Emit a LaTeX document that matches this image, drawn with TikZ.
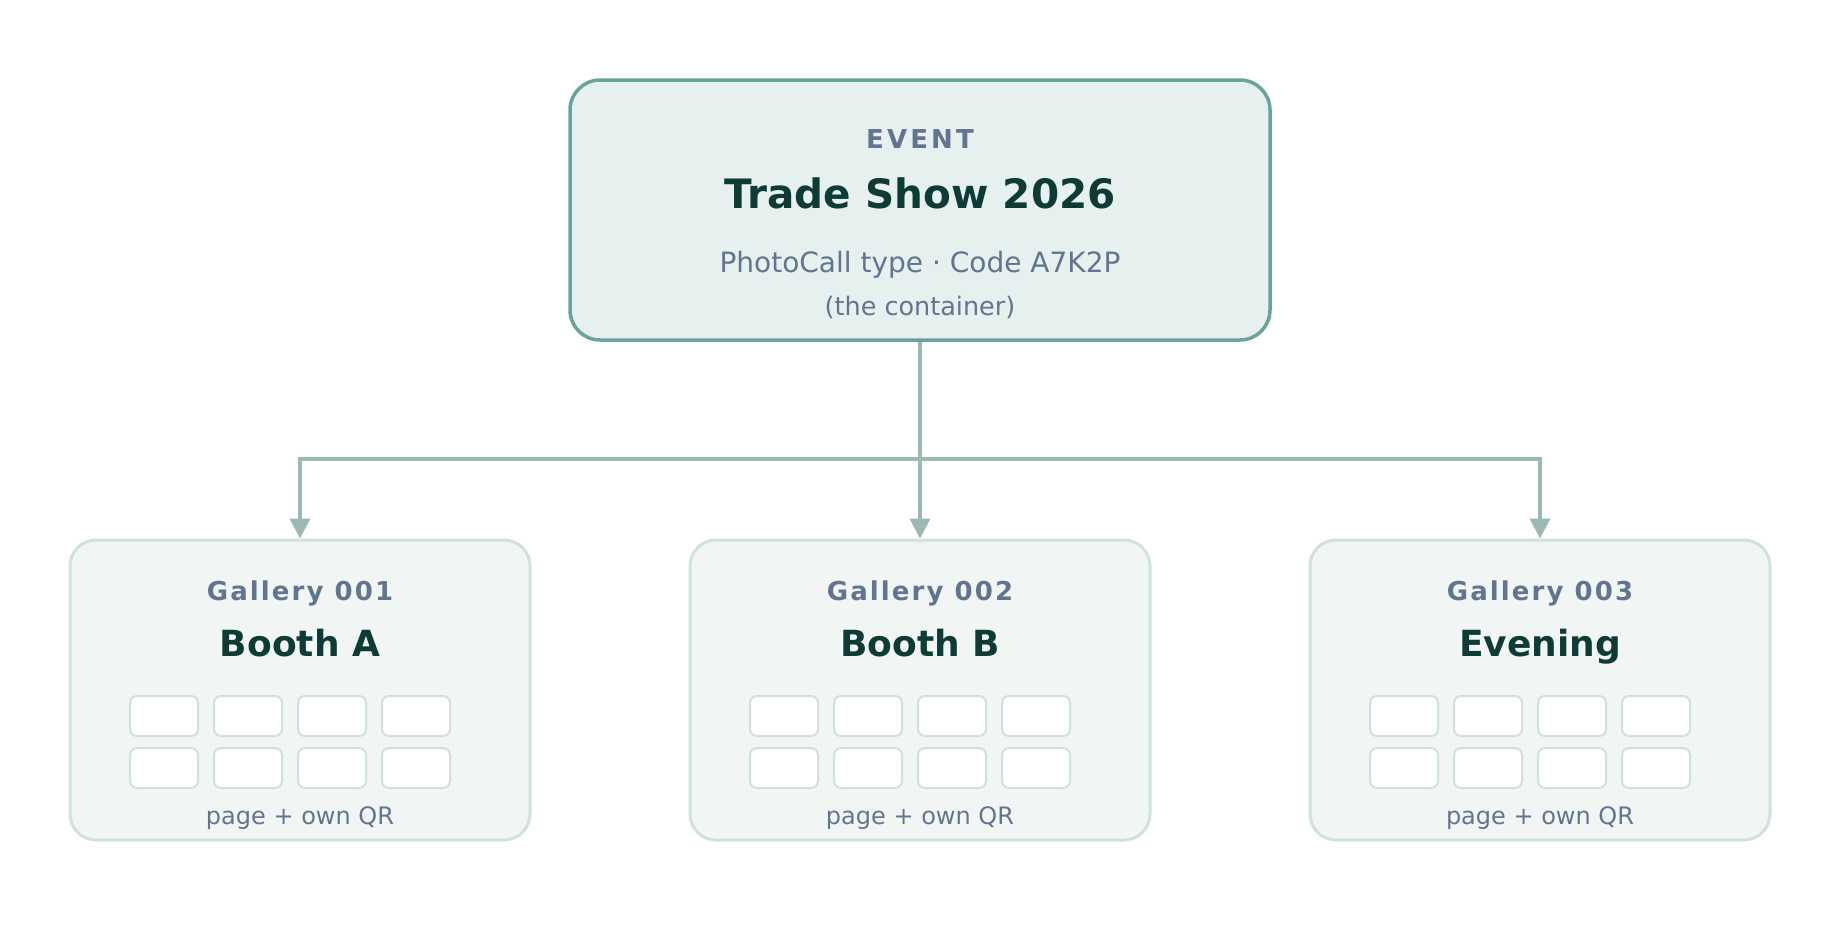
\documentclass[tikz,border=0pt]{standalone}
\usepackage{fontspec}
\setmainfont{DejaVu Sans}
\usetikzlibrary{arrows.meta}

\definecolor{topfill}{HTML}{E6F0EE}
\definecolor{topline}{HTML}{6AA39E}
\definecolor{galfill}{HTML}{F1F6F4}
\definecolor{galline}{HTML}{CFE2DC}
\definecolor{linkcol}{HTML}{9BB8B2}
\definecolor{titlecol}{HTML}{0E3B36}
\definecolor{mutedcol}{HTML}{627590}

\begin{document}
\begin{tikzpicture}[x=1pt, y=-1pt,
    eventbox/.style={draw=topline, fill=topfill, line width=3.5pt, rounded corners=30pt,
                     minimum width=700pt, minimum height=260pt, inner sep=0pt},
    galbox/.style={draw=galline, fill=galfill, line width=3pt, rounded corners=26pt,
                   minimum width=460pt, minimum height=300pt, inner sep=0pt},
    tile/.style={draw=galline, fill=white, line width=2pt, rounded corners=7pt},
    link/.style={draw=linkcol, line width=4pt},
    tip/.style={-{Triangle[length=20pt,width=20pt]}},
    kicker/.style={anchor=base, text=mutedcol, font=\bfseries\fontsize{26}{30}\selectfont\addfontfeature{LetterSpace=12}},
    galkicker/.style={anchor=base, text=mutedcol, font=\bfseries\fontsize{26}{30}\selectfont\addfontfeature{LetterSpace=8}},
    title/.style={anchor=base, text=titlecol, font=\bfseries\fontsize{40.5}{46}\selectfont},
    galtitle/.style={anchor=base, text=titlecol, font=\bfseries\fontsize{36}{42}\selectfont},
    note/.style={anchor=base, text=mutedcol, font=\fontsize{28}{32}\selectfont},
    small/.style={anchor=base, text=mutedcol, font=\fontsize{24}{28}\selectfont}]

    \useasboundingbox (0,0) rectangle (1840,940);

    % --- 1. The event (container) ---
    \node[eventbox] (event) at (920,210) {};
    \node[kicker]  (eventkind)  at (920,148) {EVENT};
    \node[title]   (eventname)  at (920,208) {Trade Show 2026};
    \node[note]    (eventcode)  at (920,272) {PhotoCall type · Code A7K2P};
    \node[small, font=\fontsize{25.5}{28}\selectfont] (eventnote) at (920,315) {(the container)};

    % --- 2. The three galleries ---
    \foreach \i/\x/\num/\name in {1/300/001/Booth A, 2/920/002/Booth B, 3/1540/003/Evening} {
        \node[galbox] (gal\i) at (\x,690) {};
        \node[galkicker] (gal\i kind) at (\x,600) {Gallery \num};
        \node[galtitle]  (gal\i name) at (\x,656) {\name};
        \node[small]     (gal\i note) at (\x,824) {page + own QR};
        % photo tiles, 2 rows of 4
        \foreach \dx in {-136,-52,32,116}
            \foreach \y in {716,768}
                \node[tile, minimum width=68pt, minimum height=40pt] at (\x+\dx,\y) {};
    }

    % --- 3. Connectors ---
    \coordinate (split) at (920,459);
    \draw[link] (event.south) -- (split);
    \draw[link, tip] (split) -- (gal2.north);
    \draw[link, tip] (split) -| (gal1.north);
    \draw[link, tip] (split) -| (gal3.north);

\end{tikzpicture}
\end{document}
